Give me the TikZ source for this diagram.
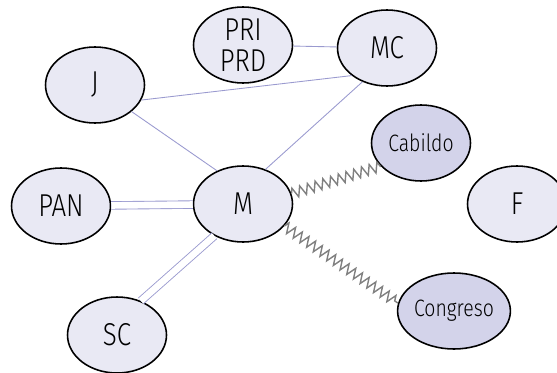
\documentclass[tikz,border=0pt]{standalone}
\usepackage{fontspec}
\setmainfont{Fira Sans}[UprightFont=* Light, FakeStretch=0.82]
\usetikzlibrary{shapes.geometric,decorations.pathmorphing}
\definecolor{partyfill}{HTML}{E9E9F4}
\definecolor{bodyfill}{HTML}{D3D3EA}
\definecolor{linkblue}{HTML}{9A9ACF}
\begin{document}
\begin{tikzpicture}[x=0.02cm, y=-0.02cm,
    every node/.style={ellipse, draw, line width=0.9pt, fill=partyfill,
      minimum width=1.98cm, minimum height=1.52cm, inner sep=0pt,
      font=\fontsize{18}{17.6}\selectfont, align=center},
    body/.style={fill=bodyfill, font=\fontsize{13.5}{15}\selectfont},
    link/.style={linkblue, line width=0.5pt},
    tie/.style={linkblue, line width=0.5pt, double, double distance=3.8pt},
    wave/.style={gray, line width=0.8pt, decorate,
      decoration={zigzag, amplitude=2.9pt, segment length=4.6pt}}]
            \useasboundingbox (0,0) rectangle (557,372);
            % Party part
            \node (P) at (243,45) {PRI\\PRD};
            \node (MC) at (387,48) {MC};
            \node (J) at (95,85) {J};
            \node (M) at (243,204) {M};
            \node (PAN) at (61,206) {PAN};
            \node (SC) at (117,335) {SC};
            \node (F) at (517,204) {F};

            \draw[link] (P) -- (MC);
            \draw[link] (J.-18) -- (MC.218);
            \draw[link] (J.-36) -- (M.128);
            \draw[link] (M.57) -- (MC.234);
            \draw[tie] (PAN) -- (M);
            \draw[tie] (M.-132) -- (SC.55);

            % Body part
            \node[body] (C) at (421,143) {Cabildo};
            \node[body] (CG) at (454,311) {Congreso};

            \draw[wave] (M.12) -- (C.-150);
            \draw[wave] (M.-28) -- (CG.172);
          \end{tikzpicture}
\end{document}
